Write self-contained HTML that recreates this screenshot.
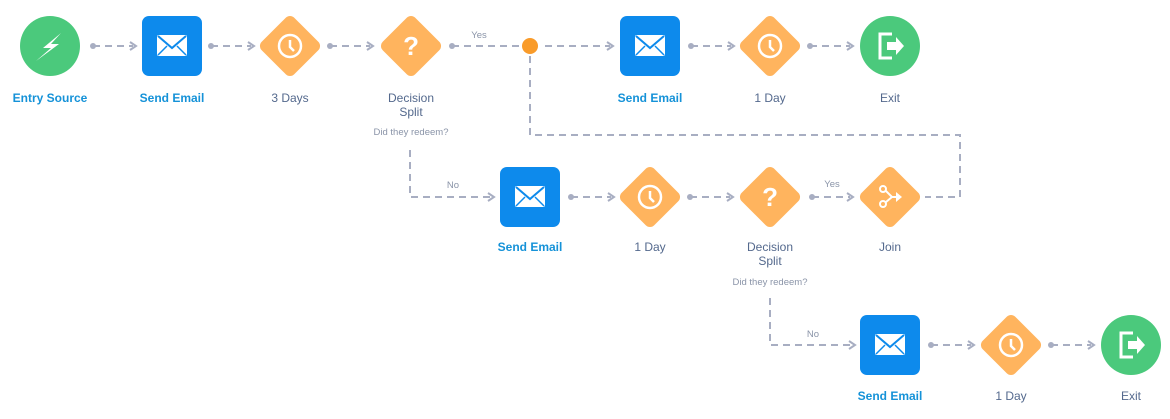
<!DOCTYPE html>
<html><head><meta charset="utf-8"><style>
html,body{margin:0;padding:0;background:#fff;}
svg{display:block;font-family:"Liberation Sans",sans-serif;}
.l{font-size:12px;fill:#54698d;text-anchor:middle;}
.b{font-size:12px;fill:#1592d8;text-anchor:middle;font-weight:bold;}
.s{font-size:9.5px;fill:#8a94a8;text-anchor:middle;}
.c{stroke:#a8aec2;stroke-width:2;stroke-dasharray:7 5;fill:none;}
.dot{fill:#a8aec2;}
.ar{fill:none;stroke:#a8aec2;stroke-width:2;}
</style></head><body>
<svg width="1170" height="419" viewBox="0 0 1170 419">
<defs>
<g id="mail"><rect x="-30" y="-30" width="60" height="60" rx="7" fill="#0d8aec"/><rect x="-15" y="-11" width="30" height="21" rx="2" fill="#fff"/><path d="M-14,-10 L0,2 L14,-10" stroke="#0d8aec" stroke-width="2" fill="none"/><path d="M-14,9 L-5,0 M14,9 L5,0" stroke="#0d8aec" stroke-width="1.5"/></g>
<g id="dia"><rect x="-23" y="-23" width="46" height="46" rx="6" fill="#ffb45e" transform="rotate(45)"/></g>
<g id="clock"><use href="#dia"/><circle r="11" fill="none" stroke="#fff" stroke-width="2.5"/><path d="M0,-6 V1 L4,5" stroke="#fff" stroke-width="2.5" fill="none"/></g>
<g id="q"><use href="#dia"/><text y="9" font-size="26" fill="#fff" text-anchor="middle" font-weight="bold" font-family="Liberation Sans">?</text></g>
<g id="exit"><circle r="30" fill="#4bc97c"/><path d="M2,-12 H-10 V12 H2" stroke="#fff" stroke-width="3" fill="none"/><path d="M-3,-4 H6 V-9 L14,0 L6,9 V4 H-3 Z" fill="#fff"/></g>
</defs>

<g>
<path class="c" d="M93,46 H133"/><circle class="dot" cx="93" cy="46" r="3"/><path class="ar" d="M130,42 L136,46 L130,50"/>
<path class="c" d="M211,46 H251"/><circle class="dot" cx="211" cy="46" r="3"/><path class="ar" d="M248,42 L254,46 L248,50"/>
<path class="c" d="M330,46 H370"/><circle class="dot" cx="330" cy="46" r="3"/><path class="ar" d="M367,42 L373,46 L367,50"/>
<path class="c" d="M452,46 H522"/><circle class="dot" cx="452" cy="46" r="3"/>
<path class="c" d="M545,46 H610"/><path class="ar" d="M607,42 L613,46 L607,50"/>
<path class="c" d="M691,46 H731"/><circle class="dot" cx="691" cy="46" r="3"/><path class="ar" d="M728,42 L734,46 L728,50"/>
<path class="c" d="M810,46 H850"/><circle class="dot" cx="810" cy="46" r="3"/><path class="ar" d="M847,42 L853,46 L847,50"/>
<path class="c" d="M530,56 V135 H960 V197 H925"/>
<path class="c" d="M410,150 V197 H490"/><path class="ar" d="M488,193 L494,197 L488,201"/>
<path class="c" d="M571,197 H611"/><circle class="dot" cx="571" cy="197" r="3"/><path class="ar" d="M608,193 L614,197 L608,201"/>
<path class="c" d="M690,197 H730"/><circle class="dot" cx="690" cy="197" r="3"/><path class="ar" d="M727,193 L733,197 L727,201"/>
<path class="c" d="M812,197 H850"/><circle class="dot" cx="812" cy="197" r="3"/><path class="ar" d="M847,193 L853,197 L847,201"/>
<path class="c" d="M770,298 V345 H851"/><path class="ar" d="M849,341 L855,345 L849,349"/>
<path class="c" d="M931,345 H971"/><circle class="dot" cx="931" cy="345" r="3"/><path class="ar" d="M968,341 L974,345 L968,349"/>
<path class="c" d="M1051,345 H1091"/><circle class="dot" cx="1051" cy="345" r="3"/><path class="ar" d="M1088,341 L1094,345 L1088,349"/>
</g>
<text x="479" y="38" class="s">Yes</text>
<text x="453" y="188" class="s">No</text>
<text x="832" y="187" class="s">Yes</text>
<text x="813" y="337" class="s">No</text>

<circle cx="50" cy="46" r="30" fill="#4bc97c"/>
<path d="M61,33 L43,48 L51,48 L36,61 L59,44 L51,44 Z" fill="#fff"/>
<use href="#mail" x="172" y="46"/>
<use href="#clock" x="290" y="46"/>
<use href="#q" x="411" y="46"/>
<circle cx="530" cy="46" r="8" fill="#f99b2a"/>
<use href="#mail" x="650" y="46"/>
<use href="#clock" x="770" y="46"/>
<use href="#exit" x="890" y="46"/>
<text x="50" y="102" class="b">Entry Source</text>
<text x="172" y="102" class="b">Send Email</text>
<text x="290" y="102" class="l">3 Days</text>
<text x="411" y="102" class="l">Decision</text>
<text x="411" y="116" class="l">Split</text>
<text x="411" y="135" class="s">Did they redeem?</text>
<text x="650" y="102" class="b">Send Email</text>
<text x="770" y="102" class="l">1 Day</text>
<text x="890" y="102" class="l">Exit</text>

<use href="#mail" x="530" y="197"/>
<use href="#clock" x="650" y="197"/>
<use href="#q" x="770" y="197"/>
<use href="#dia" x="890" y="197"/>
<g stroke="#fff" stroke-width="2" fill="none"><circle cx="883" cy="189" r="3"/><circle cx="883" cy="204" r="3"/><path d="M886,191 L892,197 H898 M886,202 L892,197"/></g>
<path d="M896,192 L902,197 L896,202 Z" fill="#fff"/>
<text x="530" y="251" class="b">Send Email</text>
<text x="650" y="251" class="l">1 Day</text>
<text x="770" y="251" class="l">Decision</text>
<text x="770" y="265" class="l">Split</text>
<text x="770" y="285" class="s">Did they redeem?</text>
<text x="890" y="251" class="l">Join</text>

<use href="#mail" x="890" y="345"/>
<use href="#clock" x="1011" y="345"/>
<use href="#exit" x="1131" y="345"/>
<text x="890" y="400" class="b">Send Email</text>
<text x="1011" y="400" class="l">1 Day</text>
<text x="1131" y="400" class="l">Exit</text>
</svg>
</body></html>
